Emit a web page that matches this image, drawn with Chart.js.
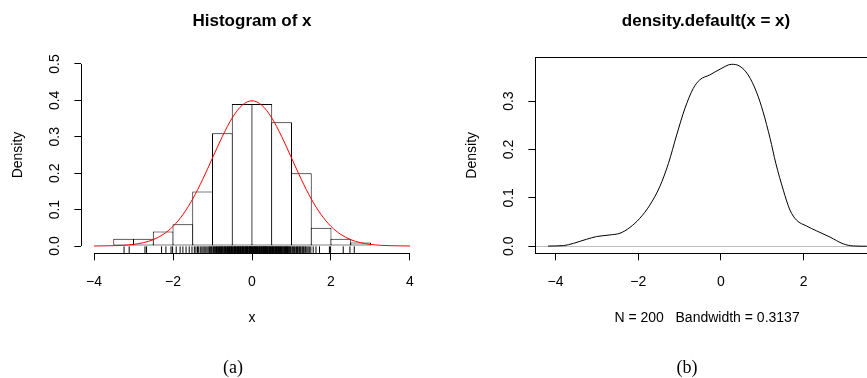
<!DOCTYPE html>
<html>
<head>
<meta charset="utf-8">
<script src="https://cdn.jsdelivr.net/npm/chart.js@4.4.1/dist/chart.umd.min.js"></script>
<style>
  html, body { margin: 0; padding: 0; background: #fff; overflow: hidden; }
  body { width: 867px; height: 378px; position: relative; }
  canvas { position: absolute; top: 0; }
  .caption {
    position: absolute; top: 357px; line-height: 20px;
    font-family: 'Liberation Serif', 'DejaVu Serif', serif; font-size: 18px;
    transform: translateX(-50%);
  }
</style>
</head>
<body>
<canvas id="hist" width="504" height="378" style="left:0"></canvas>
<canvas id="dens" width="546" height="378" style="left:433px"></canvas>
<div class="caption" style="left:233px">(a)</div>
<div class="caption" style="left:687px">(b)</div>
<script>
// histogram of x, bins of width 0.5
const binMids = [-3.25, -2.75, -2.25, -1.75, -1.25, -0.75, -0.25, 0.25, 0.75, 1.25, 1.75, 2.25, 2.75]
const binDensity = [0.02, 0.02, 0.04, 0.06, 0.15, 0.31, 0.39, 0.39, 0.34, 0.20, 0.05, 0.02, 0.01]

// red curve, standard normal density
const normX = [-4, -3.75, -3.5, -3.25, -3, -2.75, -2.5, -2.25, -2, -1.75, -1.5, -1.25, -1, -0.75, -0.5, -0.25,
  0, 0.25, 0.5, 0.75, 1, 1.25, 1.5, 1.75, 2, 2.25, 2.5, 2.75, 3, 3.25, 3.5, 3.75, 4]
const normY = [0.0001, 0.0004, 0.0009, 0.0020, 0.0044, 0.0091, 0.0175, 0.0317, 0.0540, 0.0863, 0.1295, 0.1826,
  0.2420, 0.3011, 0.3521, 0.3867, 0.3989, 0.3867, 0.3521, 0.3011, 0.2420, 0.1826, 0.1295, 0.0863, 0.0540,
  0.0317, 0.0175, 0.0091, 0.0044, 0.0020, 0.0009, 0.0004, 0.0001]

// rug: the 200 observations
const rugX = [
  -3.24, -3.11, -2.71, -2.67, -2.29, -2.18, -2.05, -2.01,
  -1.92, -1.82, -1.75, -1.67, -1.59, -1.52,
  -1.46, -1.42, -1.38, -1.35, -1.31, -1.27, -1.24, -1.21, -1.17, -1.14, -1.11, -1.08, -1.06, -1.04, -1.02,
  -0.99, -0.97, -0.96, -0.94, -0.92, -0.90, -0.89, -0.87, -0.85, -0.83, -0.82, -0.80, -0.78, -0.77, -0.75, -0.73,
  -0.71, -0.70, -0.68, -0.67, -0.65, -0.63, -0.62, -0.60, -0.59, -0.57, -0.56, -0.55, -0.53, -0.52, -0.51,
  -0.49, -0.48, -0.46, -0.45, -0.44, -0.42, -0.41, -0.40, -0.38, -0.37, -0.36, -0.34, -0.33, -0.32, -0.30,
  -0.29, -0.28, -0.26, -0.25, -0.24, -0.22, -0.21, -0.20, -0.18, -0.17, -0.16, -0.14, -0.13, -0.12, -0.11,
  -0.10, -0.08, -0.07, -0.06, -0.05, -0.04, -0.03, -0.02, -0.01,
  0.01, 0.02, 0.04, 0.05, 0.06, 0.07, 0.09, 0.10, 0.11, 0.12, 0.14, 0.15, 0.16, 0.18, 0.19, 0.20, 0.21, 0.23,
  0.24, 0.25, 0.26, 0.28, 0.29, 0.30, 0.31, 0.32, 0.34, 0.35, 0.36, 0.37, 0.39, 0.40, 0.41, 0.43, 0.44, 0.45,
  0.47, 0.48, 0.49,
  0.51, 0.52, 0.54, 0.55, 0.56, 0.58, 0.59, 0.60, 0.62, 0.63, 0.65, 0.66, 0.67, 0.69, 0.70, 0.72, 0.73, 0.75,
  0.76, 0.78, 0.79, 0.81, 0.82, 0.84, 0.85, 0.87, 0.88, 0.90, 0.91, 0.93, 0.94, 0.96, 0.97, 0.99,
  1.02, 1.04, 1.06, 1.08, 1.11, 1.13, 1.15, 1.17, 1.20, 1.22, 1.24, 1.27, 1.29, 1.31, 1.34, 1.36, 1.39, 1.42,
  1.45, 1.49, 1.55, 1.62, 1.71, 1.96, 1.99, 2.31, 2.48, 2.59]

// kernel density estimate
const densX = [-4.18, -3.81, -3.57, -3.25, -3.01, -2.69, -2.44, -2.20, -1.96, -1.72, -1.48, -1.27, -1.07, -0.87,
  -0.67, -0.51, -0.27, -0.02, 0.26, 0.46, 0.66, 0.86, 1.02, 1.19, 1.33, 1.51, 1.67, 1.83, 2.07, 2.31, 2.64,
  2.96, 3.20, 3.53]
const densY = [0.0005, 0.0014, 0.006, 0.0145, 0.020, 0.0234, 0.027, 0.039, 0.058, 0.085, 0.123, 0.171, 0.230,
  0.285, 0.326, 0.344, 0.354, 0.366, 0.376, 0.372, 0.354, 0.319, 0.278, 0.223, 0.171, 0.116, 0.075, 0.054,
  0.042, 0.032, 0.019, 0.005, 0.0007, 0.0001]

// tick values and labels
const histXTicks = [-4, -2, 0, 2, 4]
const histXLabels = ['\u22124', '\u22122', '0', '2', '4']
const histYTicks = [0, 0.1, 0.2, 0.3, 0.4, 0.5]
const histYLabels = ['0.0', '0.1', '0.2', '0.3', '0.4', '0.5']
const densXTicks = [-4, -2, 0, 2]
const densXLabels = ['\u22124', '\u22122', '0', '2']
const densYTicks = [0, 0.1, 0.2, 0.3]
const densYLabels = ['0.0', '0.1', '0.2', '0.3']

Chart.defaults.font.family = "'Liberation Sans', Arial, sans-serif"
Chart.defaults.font.size = 14
Chart.defaults.color = '#000'

const RUG_Y = -0.01

const fixWidth = w => s => { s.width = w }
const fixHeight = h => s => { s.height = h }
const setTicks = values => s => { s.ticks = values.map(v => ({ value: v })) }
const align = p => Math.round(p - 0.5) + 0.5

const tickGrid = { display: true, drawOnChartArea: false, drawTicks: true, tickLength: 7, color: '#000', lineWidth: 1, offset: false }
const hiddenPad = w => ({
  type: 'linear', position: 'right', display: true,
  grid: { display: false }, ticks: { display: false }, border: { display: false },
  afterFit: fixWidth(w),
})

// R style axes: line only between first and last tick
const histAxes = {
  id: 'histAxes',
  afterDraw(chart) {
    const { ctx, chartArea, scales } = chart
    ctx.save()
    ctx.strokeStyle = '#000'
    ctx.lineWidth = 1
    ctx.beginPath()
    const x0 = align(chartArea.left)
    ctx.moveTo(x0, scales.y.getPixelForValue(histYTicks[0]))
    ctx.lineTo(x0, scales.y.getPixelForValue(histYTicks[histYTicks.length - 1]))
    const y0 = align(chartArea.bottom)
    ctx.moveTo(scales.x.getPixelForValue(histXTicks[0]), y0)
    ctx.lineTo(scales.x.getPixelForValue(histXTicks[histXTicks.length - 1]), y0)
    ctx.stroke()
    ctx.restore()
  },
}

const densBox = {
  id: 'densBox',
  beforeDatasetsDraw(chart) {
    const { ctx, chartArea, scales } = chart
    ctx.save()
    ctx.strokeStyle = '#bebebe'
    ctx.lineWidth = 1
    const y = align(scales.y.getPixelForValue(0))
    ctx.beginPath()
    ctx.moveTo(chartArea.left, y)
    ctx.lineTo(chartArea.right, y)
    ctx.stroke()
    ctx.restore()
  },
  afterDraw(chart) {
    const { ctx, chartArea } = chart
    ctx.save()
    ctx.strokeStyle = '#000'
    ctx.lineWidth = 1
    const l = align(chartArea.left), t = align(chartArea.top)
    const r = align(chartArea.right), b = align(chartArea.bottom)
    ctx.strokeRect(l, t, r - l, b - t)
    ctx.restore()
  },
}

new Chart(document.getElementById('hist'), {
  type: 'bar',
  data: {
    datasets: [
      {
        type: 'line',
        data: normX.map((x, i) => ({ x, y: normY[i] })),
        borderColor: '#ff0000',
        borderWidth: 1,
        pointRadius: 0,
        cubicInterpolationMode: 'monotone',
        order: 0,
      },
      {
        type: 'scatter',
        data: rugX.map(x => ({ x, y: RUG_Y })),
        pointStyle: 'line',
        rotation: 90,
        pointRadius: 3.3,
        borderColor: '#000',
        borderWidth: 1,
        order: 1,
      },
      {
        type: 'bar',
        data: binMids.map((x, i) => ({ x, y: binDensity[i] })),
        backgroundColor: '#ffffff',
        borderColor: '#000',
        borderWidth: 1,
        borderSkipped: false,
        barPercentage: 1.05,
        categoryPercentage: 1,
        order: 2,
      },
    ],
  },
  options: {
    responsive: false,
    animation: false,
    events: [],
    layout: { padding: 0 },
    plugins: {
      legend: { display: false },
      tooltip: { enabled: false },
      title: {
        display: true,
        text: 'Histogram of x',
        font: { size: 17, weight: 'bold' },
        padding: { top: 11.5, bottom: 24.8 },
      },
    },
    scales: {
      x: {
        type: 'linear', min: -4.32, max: 4.32, offset: false,
        grid: tickGrid, border: { display: false },
        afterBuildTicks: setTicks(histXTicks),
        afterFit: fixHeight(124.7),
        ticks: { autoSkip: false, maxRotation: 0, padding: 13.3, callback: (v, i) => histXLabels[i] },
        title: { display: true, text: 'x', padding: { top: 0, bottom: 51.6 } },
      },
      y: {
        type: 'linear', min: -0.02, max: 0.52,
        grid: tickGrid, border: { display: false },
        afterBuildTicks: setTicks(histYTicks),
        afterFit: fixWidth(81.4),
        ticks: { autoSkip: false, minRotation: 90, maxRotation: 90, crossAlign: 'center', padding: 9.7, callback: (v, i) => histYLabels[i] },
        title: { display: true, text: 'Density', padding: { top: 9.9, bottom: 0 } },
      },
      pad: hiddenPad(81.4),
    },
  },
  plugins: [histAxes],
})

new Chart(document.getElementById('dens'), {
  type: 'line',
  data: {
    datasets: [
      {
        data: densX.map((x, i) => ({ x, y: densY[i] })),
        borderColor: '#000',
        borderWidth: 1,
        pointRadius: 0,
        cubicInterpolationMode: 'monotone',
      },
    ],
  },
  options: {
    responsive: false,
    animation: false,
    events: [],
    layout: { padding: 0 },
    plugins: {
      legend: { display: false },
      tooltip: { enabled: false },
      title: {
        display: true,
        text: 'density.default(x = x)',
        font: { size: 17, weight: 'bold' },
        padding: { top: 11.5, bottom: 25.4 },
      },
    },
    scales: {
      x: {
        type: 'linear', min: -4.49, max: 3.82,
        grid: tickGrid, border: { display: false },
        afterBuildTicks: setTicks(densXTicks),
        afterFit: fixHeight(124.7),
        ticks: { autoSkip: false, maxRotation: 0, padding: 13.3, callback: (v, i) => densXLabels[i] },
        title: { display: true, text: 'N = 200   Bandwidth = 0.3137', padding: { top: 0, bottom: 51.6 } },
      },
      y: {
        type: 'linear', min: -0.0145, max: 0.3905,
        grid: tickGrid, border: { display: false },
        afterBuildTicks: setTicks(densYTicks),
        afterFit: fixWidth(102.3),
        ticks: { autoSkip: false, minRotation: 90, maxRotation: 90, crossAlign: 'center', padding: 9.7, callback: (v, i) => densYLabels[i] },
        title: { display: true, text: 'Density', padding: { top: 30.3, bottom: 0 } },
      },
      pad: hiddenPad(100.2),
    },
  },
  plugins: [densBox],
})
</script>
</body>
</html>
